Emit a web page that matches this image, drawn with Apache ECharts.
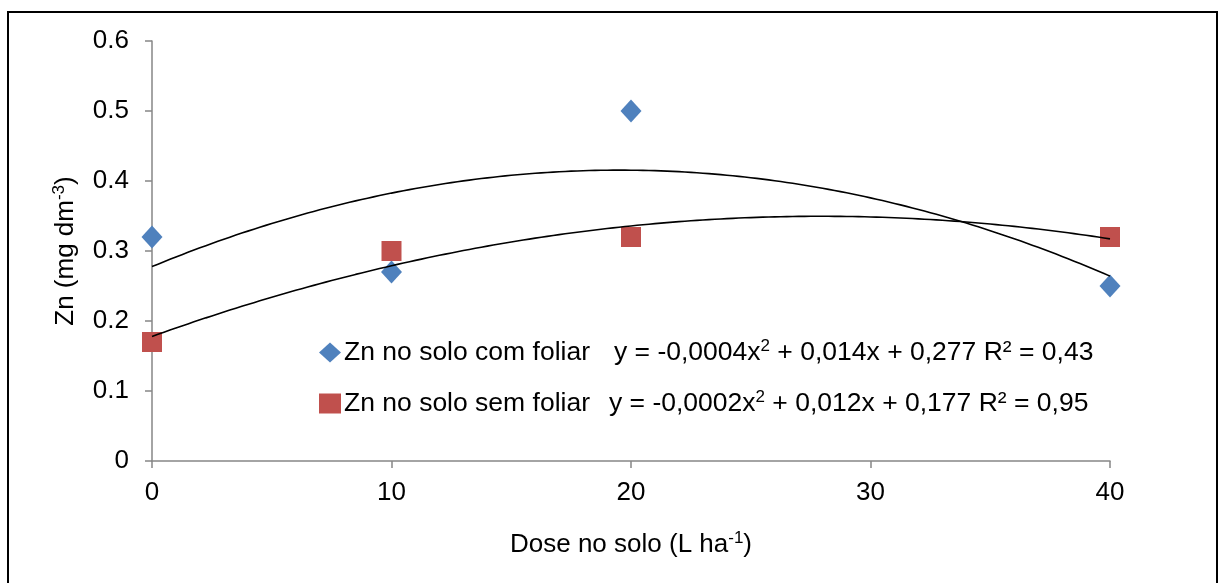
<!DOCTYPE html>
<html>
<head>
<meta charset="utf-8">
<script src="https://cdn.jsdelivr.net/npm/echarts@6/dist/echarts.min.js"></script>
<style>
html,body{margin:0;padding:0;background:#fff;}
#chart{width:1218px;height:583px;}
</style>
</head>
<body>
<div id="chart"></div>
<script>
// ---- data ----
var doses = [0, 10, 20, 40];
var comFoliar = [0.32, 0.27, 0.50, 0.25];
var semFoliar = [0.17, 0.30, 0.32, 0.32];
var seriesNames = ['Zn no solo com foliar', 'Zn no solo sem foliar'];
var xTicks = [0, 10, 20, 30, 40];
var yTicks = [0, 0.1, 0.2, 0.3, 0.4, 0.5, 0.6];

// quadratic least-squares fit (trend line, like Excel polynomial order 2)
function quadFit(xs, ys) {
  var S = [0,0,0,0,0], T = [0,0,0];
  for (var i = 0; i < xs.length; i++) {
    var p = 1;
    for (var k = 0; k < 5; k++) { S[k] += p; if (k < 3) T[k] += p * ys[i]; p *= xs[i]; }
  }
  var A = [[S[0],S[1],S[2],T[0]],[S[1],S[2],S[3],T[1]],[S[2],S[3],S[4],T[2]]];
  for (var c = 0; c < 3; c++) {
    for (var r = c + 1; r < 3; r++) {
      var f = A[r][c] / A[c][c];
      for (var j = c; j < 4; j++) A[r][j] -= f * A[c][j];
    }
  }
  var sol = [0,0,0];
  for (var r2 = 2; r2 >= 0; r2--) {
    var s = A[r2][3];
    for (var j2 = r2 + 1; j2 < 3; j2++) s -= A[r2][j2] * sol[j2];
    sol[r2] = s / A[r2][r2];
  }
  return sol; // a0, a1, a2
}
function curve(xs, ys) {
  var c = quadFit(xs, ys), out = [];
  var x0 = xs[0], x1 = xs[xs.length - 1];
  for (var x = x0; x <= x1 + 1e-9; x += 0.25) out.push([x, c[0] + c[1]*x + c[2]*x*x]);
  return out;
}
function pairs(xs, ys) { return xs.map(function (x, i) { return [x, ys[i]]; }); }

var FONT = "'Liberation Sans', Arial, sans-serif";
var FS = 26;
var LFS = 26.5;
var SUP = 17;
var axisGray = '#868686';
var supStyle = { fontFamily: FONT, fontSize: SUP, color: '#000', verticalAlign: 'top', padding: [0, 0, 12, 0] };

var chart = echarts.init(document.getElementById('chart'));
chart.setOption({
  animation: false,
  backgroundColor: '#fff',
  textStyle: { fontFamily: FONT },
  graphic: [{
    type: 'polyline',
    shape: { points: [[8, 590], [8, 12], [1217, 12], [1217, 590]] },
    style: { stroke: '#000', lineWidth: 2, fill: null },
    silent: true
  }],
  grid: { left: 152, right: 108, top: 41, bottom: 122, containLabel: false },
  xAxis: {
    type: 'value', min: 0, max: 40, interval: 10,
    name: 'Dose no solo (L ha{sup|-1})',
    nameLocation: 'middle', nameGap: 69,
    nameTextStyle: { fontFamily: FONT, fontSize: FS, color: '#000', rich: { sup: supStyle } },
    axisLine: { show: true, onZero: false, lineStyle: { color: axisGray, width: 1.5 } },
    axisTick: { show: true, length: 7, lineStyle: { color: axisGray, width: 1.5 } },
    axisLabel: { fontFamily: FONT, fontSize: FS, color: '#000', margin: 19 },
    splitLine: { show: false }
  },
  yAxis: {
    type: 'value', min: 0, max: 0.6, interval: 0.1,
    name: 'Zn (mg dm{sup|-3})',
    nameLocation: 'middle', nameGap: 72, nameRotate: 90,
    nameTextStyle: { fontFamily: FONT, fontSize: FS, color: '#000', rich: { sup: supStyle } },
    axisLine: { show: true, lineStyle: { color: axisGray, width: 1.5 } },
    axisTick: { show: true, length: 7, lineStyle: { color: axisGray, width: 1.5 } },
    axisLabel: { fontFamily: FONT, fontSize: FS, color: '#000', margin: 23,
      formatter: function (v) { return (Math.round(v * 10) / 10).toString(); } },
    splitLine: { show: false }
  },
  legend: {
    data: [
      { name: seriesNames[0], icon: 'diamond', itemStyle: { color: '#4F81BD', opacity: 1 } },
      { name: seriesNames[1], icon: 'rect', itemStyle: { color: '#C0504D', opacity: 1 } }
    ],
    orient: 'vertical', left: 314, top: 333, itemGap: 23,
    itemWidth: 22, itemHeight: 20,
    selectedMode: false,
    textStyle: {
      fontFamily: FONT, fontSize: LFS, color: '#000', padding: [0, 0, 0, -2],
      rich: {
        e1: { fontFamily: FONT, fontSize: LFS, color: '#000', padding: [0, 0, 0, 24] },
        e2: { fontFamily: FONT, fontSize: LFS, color: '#000', padding: [0, 0, 0, 19] },
        t: { fontFamily: FONT, fontSize: LFS, color: '#000' },
        sup: supStyle
      }
    },
    formatter: function (name) {
      if (name === seriesNames[0]) return '{t|' + name + '}{e1|y = -0,0004x}{sup|2}{t| + 0,014x + 0,277 R² = 0,43}';
      return '{t|' + name + '}{e2|y = -0,0002x}{sup|2}{t| + 0,012x + 0,177 R² = 0,95}';
    }
  },
  series: [
    {
      name: 'trend1', type: 'line', data: curve(doses, comFoliar), showSymbol: false, symbol: 'none',
      smooth: false, lineStyle: { color: '#000', width: 1.6 }, z: 3, silent: true
    },
    {
      name: 'trend2', type: 'line', data: curve(doses, semFoliar), showSymbol: false, symbol: 'none',
      smooth: false, lineStyle: { color: '#000', width: 1.6 }, z: 3, silent: true
    },
    {
      name: seriesNames[0], type: 'scatter', data: pairs(doses, comFoliar), symbol: 'diamond', symbolSize: [21, 23],
      itemStyle: { color: '#4F81BD', opacity: 1 }, z: 2
    },
    {
      name: seriesNames[1], type: 'scatter', data: pairs(doses, semFoliar), symbol: 'rect', symbolSize: 20,
      itemStyle: { color: '#C0504D', opacity: 1 }, z: 2
    }
  ]
});
</script>
</body>
</html>
